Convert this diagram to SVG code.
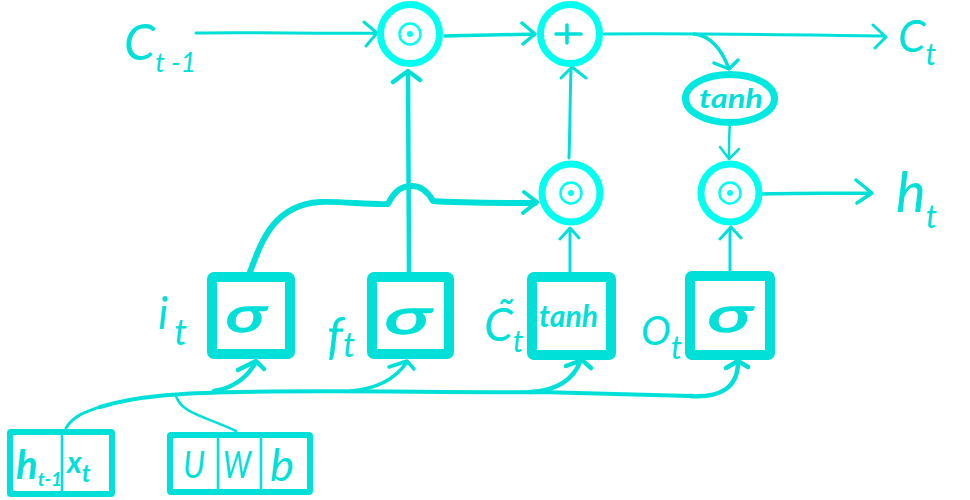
<svg xmlns="http://www.w3.org/2000/svg" width="970" height="500" viewBox="0 0 970 500">
<style>
.c{fill:none;stroke:#00fff0;stroke-width:7}
.d{fill:none;stroke:#00fff0;stroke-width:2.5}
.b{fill:#fff;stroke:#00e0d8;stroke-width:10;stroke-linejoin:round}
.s{fill:#fff;stroke:#00e0d8;stroke-width:6;stroke-linejoin:round}
.l{fill:none;stroke:#00e0d8;stroke-linecap:round;stroke-linejoin:round}
text{fill:#00e0d8;font-family:"Lato","Liberation Sans",sans-serif;font-style:italic}
.f{fill:#00fff0}
</style>
<rect width="970" height="500" fill="#fff"/>
<g id="connectors">
<path class="l" stroke-width="3" d="M196 33C260 32 320 34 376 33M364 22L377 33L366 46"/>
<path class="l" stroke-width="3.500" d="M445 36C475 35 505 35 534 34M522 23L535 34L523 44"/>
<path class="l" stroke-width="3" d="M604 34C700 33 800 35 885 36M873 25L886 37L875 48"/>
<path class="l" stroke-width="3.500" d="M694 34C712 36 722 50 729 69M714 63L729 69L738 60"/>
<path class="l" stroke-width="2.500" d="M730 122C729 135 729 148 729 158M720 147L729 159L739 149"/>
<path class="l" stroke-width="3.500" d="M762 194C800 193 830 193 871 193M856 180L872 193L857 203"/>
<path class="l" stroke-width="4.500" d="M409 272C409 210 408 130 408 72M393 82L408 71L420 80"/>
<path class="l" stroke-width="3" d="M569 158C570 130 570 100 571 68M561 78L572 67L586 78"/>
<path class="l" stroke-width="3" d="M570 272L570 230M560 239L570 228L579 238"/>
<path class="l" stroke-width="3" d="M730 271L730 229M720 239L731 227L741 238"/>
<path class="l" stroke-width="6" d="M250 272C262 240 274 205 320 202C340 201 370 205 388 204C395 190 402 186 412 186C422 186 428 192 433 201C460 203 500 203 535 203"/>
<path class="l" stroke-width="4" d="M524 192L537 202L523 213"/>
<path class="l" stroke-width="3" d="M66 428C74 415 88 411 100 407"/>
<path class="l" stroke-width="4" d="M100 407C135 396 180 393 240 392C350 390 450 393 540 392C600 394 650 395 690 396"/>
<path class="l" stroke-width="4.500" d="M214 391C234 388 248 376 256 362M238 370L256 361L264 369"/>
<path class="l" stroke-width="3.500" d="M350 391C378 389 396 378 407 362M389 367L407 361L414 369"/>
<path class="l" stroke-width="4.500" d="M530 392C558 391 574 378 580 362M566 366L582 360L591 368"/>
<path class="l" stroke-width="4.500" d="M690 396C720 398 738 388 738 362M726 368L738 361L748 367"/>
<path class="l" stroke-width="2.500" d="M176 396C182 414 205 416 236 431"/>
</g>
<g id="node-c-prev"><text x="124" y="60" font-size="50">C<tspan dy="12" font-size="27">t -1</tspan></text></g>
<g id="node-c"><text x="898" y="52" font-size="44">C<tspan dy="13" font-size="30">t</tspan></text></g>
<g id="node-h"><text x="896" y="212" font-size="56">h<tspan dy="16" font-size="32">t</tspan></text></g>
<g id="node-mul1"><circle class="c" cx="410" cy="34" r="29.500"/><circle class="d" cx="410" cy="34" r="10.500"/><circle class="f" cx="410" cy="34" r="3"/></g>
<g id="node-add"><circle class="c" cx="570" cy="34" r="29.500"/><path class="l" stroke-width="3.500" d="M556 34H581M567 25L567 43"/></g>
<g id="node-mul2"><circle class="c" cx="571" cy="193" r="29"/><circle class="d" cx="571" cy="193" r="10.500"/><circle class="f" cx="571" cy="193" r="3"/></g>
<g id="node-mul3"><circle class="c" cx="730" cy="193" r="29"/><circle class="d" cx="730" cy="193" r="10.500"/><circle class="f" cx="730" cy="193" r="3"/></g>
<g id="node-tanh-oval"><ellipse cx="730" cy="98.500" rx="44.500" ry="24" fill="#fff" stroke="#00e8e0" stroke-width="7"/><text x="699" y="108" font-size="26" font-weight="700" textLength="64" lengthAdjust="spacingAndGlyphs">tanh</text></g>
<g id="node-i"><rect class="b" x="212" y="277" width="78" height="77" rx="2"/><text x="226" y="332" font-size="50" font-weight="400" stroke="#00e0d8" stroke-width="1.500" textLength="40" lengthAdjust="spacingAndGlyphs">σ</text><text x="158" y="329" font-size="44">i<tspan dx="6" dy="16" font-size="36">t</tspan></text></g>
<g id="node-f"><rect class="b" x="372" y="277" width="77" height="77" rx="2"/><text x="385" y="334" font-size="50" font-weight="400" stroke="#00e0d8" stroke-width="1.500" textLength="46" lengthAdjust="spacingAndGlyphs">σ</text><text x="327" y="353" font-size="50">f<tspan dy="4" font-size="34">t</tspan></text></g>
<g id="node-c-tilde"><rect class="b" x="532" y="277" width="79" height="78" rx="2"/><text x="539" y="327" font-size="31" font-weight="700" textLength="59" lengthAdjust="spacingAndGlyphs">tanh</text><text x="484" y="341" font-size="46">C̃<tspan dy="11" font-size="30">t</tspan></text></g>
<g id="node-o"><rect class="b" x="690" y="276" width="80" height="79" rx="2"/><text x="708" y="332" font-size="48" font-weight="400" stroke="#00e0d8" stroke-width="1.500" textLength="44" lengthAdjust="spacingAndGlyphs">σ</text><text x="641" y="345" font-size="40">O<tspan dy="14" font-size="32">t</tspan></text></g>
<g id="node-input"><rect class="s" x="10" y="432" width="102" height="62" rx="1"/><path class="l" stroke-width="2.500" d="M62 432V494"/><text x="16" y="479" font-size="40" font-weight="700">h<tspan dy="7" font-size="19">t-1</tspan></text><text x="67" y="473" font-size="30" font-weight="700">x<tspan dy="9" font-size="24">t</tspan></text></g>
<g id="node-params"><rect class="s" x="170" y="435" width="140" height="57" rx="1"/><path class="l" stroke-width="2.500" d="M218 435V492M261 435V492"/><text x="183" y="478" font-size="36" textLength="22" lengthAdjust="spacingAndGlyphs">U</text><text x="223" y="478" font-size="36" textLength="28" lengthAdjust="spacingAndGlyphs">W</text><text x="270" y="481" font-size="44" textLength="24" lengthAdjust="spacingAndGlyphs">b</text></g>
</svg>
